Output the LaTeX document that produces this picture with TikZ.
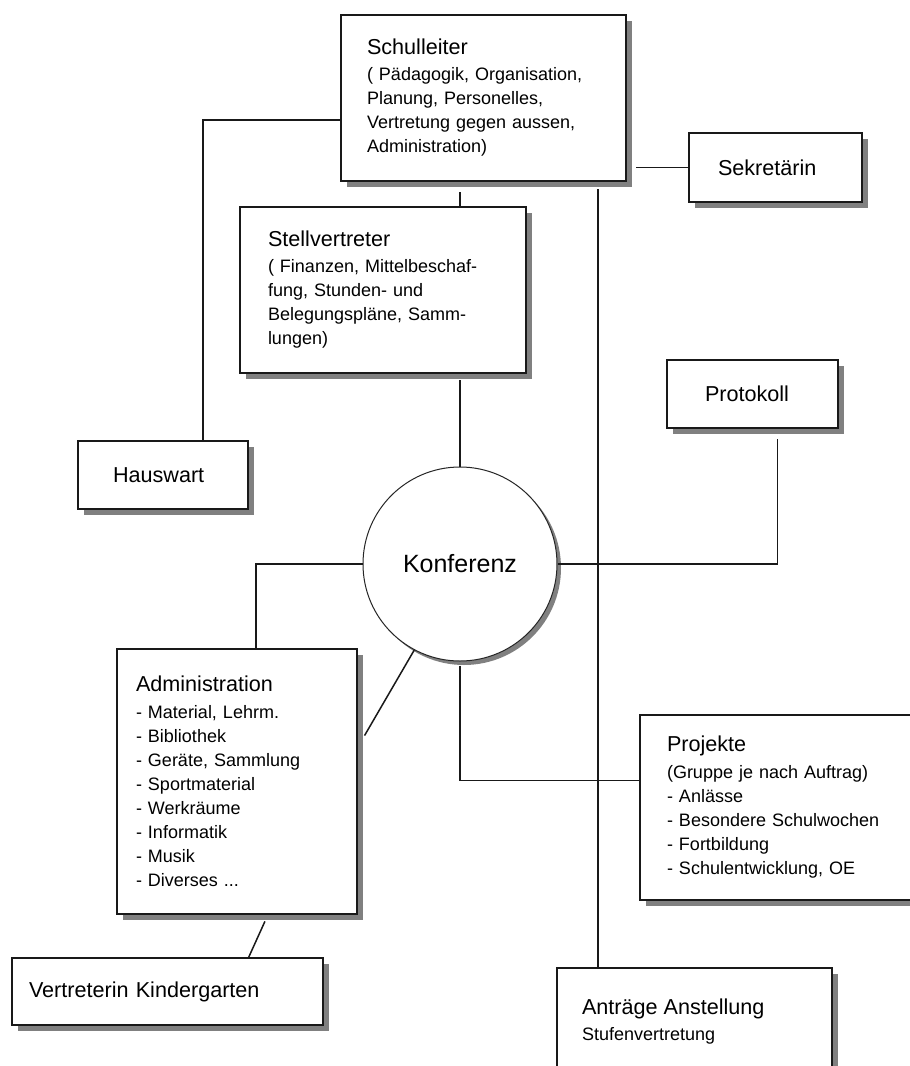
\documentclass[tikz,border=0pt]{standalone}
\usepackage{fontspec}
\setmainfont{Liberation Sans}
\usetikzlibrary{shadows}

\newcommand{\titel}[1]{{\fontsize{21.6}{26}\selectfont #1}}

\tikzset{
	orgbox/.style={draw=black!90, line width=2pt, fill=white, anchor=north west, align=left, inner ysep=0pt,
		font=\fontsize{18}{24}\selectfont,
		drop shadow={shadow xshift=6pt, shadow yshift=-6pt, fill=black!50, opacity=1}},
	einzel/.style={orgbox, font=\fontsize{21.6}{26}\selectfont},
	linie/.style={line width=1.5pt, black!90},
}

\begin{document}
\begin{tikzpicture}[x=1pt, y=-1pt]
		
		\useasboundingbox (0,0) rectangle (910,1066);
		\clip (0,0) rectangle (910,1066);
		
		%sl
		\node[orgbox, minimum width=285pt, minimum height=166pt, inner xsep=26pt, text width=233pt] (sl) at (340,14)
			{\titel{Schulleiter}\\[2pt] ( Pädagogik, Organisation,\\ Planung, Personelles,\\ Vertretung gegen aussen,\\ Administration)};
		%sk
		\node[einzel, minimum width=173pt, minimum height=69pt, inner xsep=29pt, text width=115pt] (sk) at (688,132) {Sekretärin};
		%sv
		\node[orgbox, minimum width=286pt, minimum height=166pt, inner xsep=28pt, text width=230pt] (sv) at (239,206)
			{\titel{Stellvertreter}\\[2pt] ( Finanzen, Mittelbeschaf-\\ fung, Stunden- und\\ Belegungspläne, Samm-\\ lungen)};
		%hw
		\node[einzel, minimum width=170pt, minimum height=68pt, inner xsep=35pt, text width=100pt] (hw) at (77,440) {Hauswart};
		%pk
		\node[einzel, minimum width=171pt, minimum height=68pt, inner xsep=38pt, text width=95pt] (pk) at (666,359) {Protokoll};
		%kf
		\node[circle, draw=black!85, line width=1pt, fill=white, minimum size=194pt, inner sep=0pt,
			font=\fontsize{25}{30}\selectfont,
			drop shadow={shadow xshift=4pt, shadow yshift=-4pt, fill=black!50, opacity=1}] (kf) at (460,564) {Konferenz};
		%ad
		\node[orgbox, minimum width=240pt, minimum height=265pt, inner xsep=19pt, text width=202pt] (ad) at (116,648)
			{\titel{Administration}\\[3pt] - Material, Lehrm.\\ - Bibliothek\\ - Geräte, Sammlung\\ - Sportmaterial\\ - Werkräume\\ - Informatik\\ - Musik\\ - Diverses ...};
		%vk
		\node[einzel, minimum width=311pt, minimum height=67pt, inner xsep=17pt, text width=277pt] (vk) at (11,957) {Vertreterin Kindergarten};
		%pj
		\node[orgbox, minimum width=291pt, minimum height=185pt, inner xsep=27pt, text width=237pt] (pj) at (639,714)
			{\titel{Projekte}\\[3pt] (Gruppe je nach Auftrag)\\ - Anlässe\\ - Besondere Schulwochen\\ - Fortbildung\\ - Schulentwicklung, OE};
		%an
		\node[orgbox, minimum width=275pt, minimum height=108pt, inner xsep=25pt, text width=225pt] (an) at (556,967)
			{\titel{Anträge Anstellung}\\[2pt] Stufenvertretung};
		
		\coordinate (trunk) at ([xshift=42pt]an.north west);
		
		
		\draw[linie] ([yshift=-22pt]sl.west) -| ([xshift=40pt]hw.north);
		\draw[linie, shorten <=9pt] (sl.east |- sk.west) -- (sk.west);
		\draw[linie, shorten <=10pt] (sl.south -| kf.north) -- (sv.north -| kf.north);
		\draw[linie, shorten <=7pt] (sl.south -| trunk) -- (trunk);
		\draw[linie, shorten <=6pt] (sv.south -| kf.north) -- (kf.north);
		\draw[linie, shorten <=10pt] ([xshift=25pt]pk.south) |- (kf.east);
		\draw[linie] (kf.west) -| ([xshift=19pt]ad.north);
		\draw[linie, shorten >=13pt] (kf.242) -- (ad.16);
		\draw[linie, shorten <=7pt] (ad.-77) -- (vk.23);
		\draw[linie, shorten <=4pt] (kf.south) |- ([yshift=27pt]pj.west);
		
		
\end{tikzpicture}
\end{document}
